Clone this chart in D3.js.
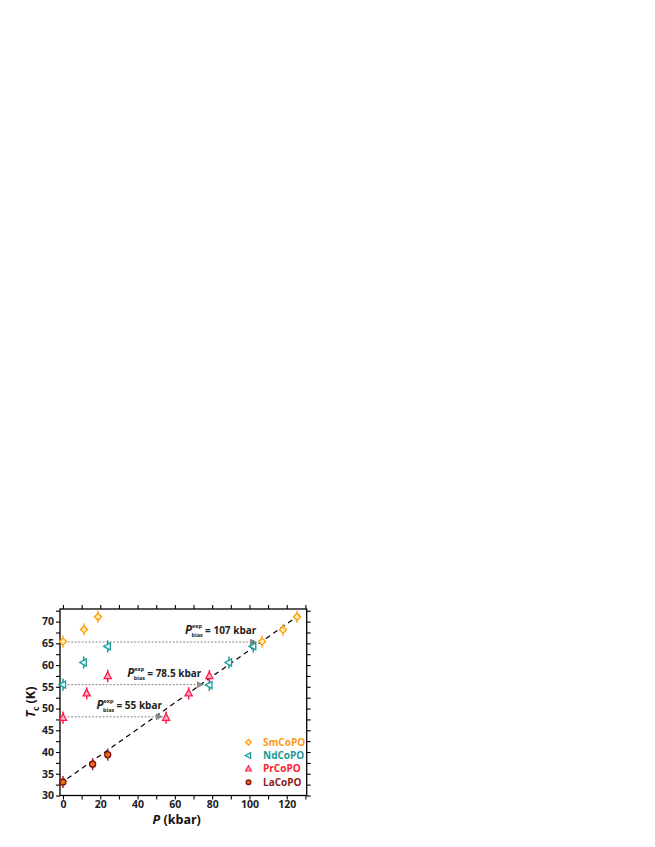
<!DOCTYPE html>
<html>
<head>
<meta charset="utf-8">
<script src="https://cdn.jsdelivr.net/npm/d3@7"></script>
<style>
  body { margin: 0; background: #fff; }
  svg text { font-family: "Open Sans", "DejaVu Sans", sans-serif; font-weight: bold; }
</style>
</head>
<body>
<svg id="canvas" width="655" height="847"></svg>
<script>
// data
let smP = [0, 11.3, 18.8, 106.8, 118, 125.5]
let smT = [65.4, 68.2, 71.1, 65.4, 68.1, 71.1]
let ndP = [0, 11.1, 24, 78.5, 89, 102]
let ndT = [55.5, 60.6, 64.3, 55.4, 60.6, 64.3]
let prP = [0, 12.7, 24, 55.3, 67.4, 78.5]
let prT = [47.9, 53.5, 57.5, 47.9, 53.5, 57.5]
let laP = [0, 15.9, 24]
let laT = [33.1, 37.2, 39.4]
let errT = 1.4

let fitP = [-1.6, 127]
let fitT = [32.7, 71.6]

let arrowT = [65.3, 55.5, 48.1]
let arrowEnd = [104, 75.6, 53.6]
let arrowLabel = ['= 107 kbar', '= 78.5 kbar', '= 55 kbar']
let labelP = [65.5, 34.5, 18]
let labelT = [67.2, 57.2, 49.8]

let xTicks = [0, 20, 40, 60, 80, 100, 120]
let yTicks = [30, 35, 40, 45, 50, 55, 60, 65, 70]

let seriesNames = ['SmCoPO', 'NdCoPO', 'PrCoPO', 'LaCoPO']
let seriesText = ['#ff9a1a', '#1a9a9a', '#ff1a2e', '#8b1a1a']

let canvas = d3.select('#canvas')

let x = d3.scaleLinear().domain([-1.6, 130.7]).range([60, 306.7])
let y = d3.scaleLinear().domain([30, 72.9]).range([795.5, 609])

// frame
canvas.append('rect')
    .attr('x', x.range()[0]).attr('y', y.range()[1])
    .attr('width', x.range()[1] - x.range()[0])
    .attr('height', y.range()[0] - y.range()[1])
    .attr('fill', 'none').attr('stroke', '#000').attr('stroke-width', 1.3)

let tickLen = 4
let axisStyle = (g) => {
    g.select('.domain').remove()
    g.selectAll('line').attr('stroke', '#000').attr('stroke-width', 1.1)
    g.selectAll('text').attr('font-size', 10.5).attr('fill', '#222')
}

// bottom axis
canvas.append('g')
    .attr('transform', `translate(0,${y.range()[0]})`)
    .call(d3.axisBottom(x).tickValues(d3.range(0, 131, 10)).tickSize(tickLen).tickPadding(1.5)
        .tickFormat(d => xTicks.includes(d) ? d : ''))
    .call(axisStyle)
// top axis
canvas.append('g')
    .attr('transform', `translate(0,${y.range()[1]})`)
    .call(d3.axisTop(x).tickValues(d3.range(0, 131, 10)).tickSize(tickLen).tickFormat(''))
    .call(axisStyle)
// left axis
canvas.append('g')
    .attr('transform', `translate(${x.range()[0]},0)`)
    .call(d3.axisLeft(y).tickValues(d3.range(30, 73, 2.5)).tickSize(tickLen).tickPadding(2)
        .tickFormat(d => yTicks.includes(d) ? d : ''))
    .call(axisStyle)
// right axis
canvas.append('g')
    .attr('transform', `translate(${x.range()[1]},0)`)
    .call(d3.axisRight(y).tickValues(d3.range(30, 73, 2.5)).tickSize(tickLen).tickFormat(''))
    .call(axisStyle)

// axis titles
let yTitle = canvas.append('text')
    .attr('transform', `translate(35,${y(51.5)}) rotate(-90)`)
    .attr('text-anchor', 'middle').attr('font-size', 12.5).attr('fill', '#111')
yTitle.append('tspan').attr('font-style', 'italic').text('T')
yTitle.append('tspan').attr('font-size', 8).attr('dy', 4).text('c')
yTitle.append('tspan').attr('dy', -4).text(' (K)')

let xTitle = canvas.append('text')
    .attr('x', x(61)).attr('y', 824)
    .attr('text-anchor', 'middle').attr('font-size', 12.5).attr('fill', '#111')
xTitle.append('tspan').attr('font-style', 'italic').text('P')
xTitle.append('tspan').text(' (kbar)')

// fit line
canvas.append('path')
    .datum(d3.zip(fitP, fitT))
    .attr('d', d3.line().x(d => x(d[0])).y(d => y(d[1])))
    .attr('stroke', '#000').attr('stroke-width', 1.2)
    .attr('stroke-dasharray', '5,4').attr('fill', 'none')

// arrows
canvas.append('defs').append('marker')
    .attr('id', 'head').attr('viewBox', '0 0 10 10')
    .attr('refX', 10).attr('refY', 5)
    .attr('markerWidth', 9).attr('markerHeight', 7)
    .attr('markerUnits', 'userSpaceOnUse')
    .attr('orient', 'auto')
    .append('path').attr('d', 'M0,0 L10,5 L0,10 Z').attr('fill', '#8a8a8a')

arrowT.forEach((t, i) => {
    canvas.append('line')
        .attr('x1', x(2.5)).attr('x2', x(arrowEnd[i]))
        .attr('y1', y(t)).attr('y2', y(t))
        .attr('stroke', '#888').attr('stroke-width', 1)
        .attr('stroke-dasharray', '2,1.5')
        .attr('marker-end', 'url(#head)')

    let lx = x(labelP[i])
    let ly = y(labelT[i])
    canvas.append('text').attr('x', lx).attr('y', ly)
        .attr('font-size', 11.5).attr('font-style', 'italic').attr('fill', '#222').text('P')
    canvas.append('text').attr('x', lx + 7).attr('y', ly - 6)
        .attr('font-size', 5.5).attr('fill', '#222').text('exp')
    canvas.append('text').attr('x', lx + 6.5).attr('y', ly + 3)
        .attr('font-size', 5.5).attr('fill', '#222').text('bias')
    canvas.append('text').attr('x', lx + 20).attr('y', ly)
        .attr('font-size', 10).attr('fill', '#222').text(arrowLabel[i])
})

// symbols (custom shapes so the diamond is square-ish)
let diamondPath = (r) => `M0,${-r}L${r},0L0,${r}L${-r},0Z`
let triPath = (r) => `M0,${-r}L${r * 0.9},${r * 0.65}L${-r * 0.9},${r * 0.65}Z`
let circPath = (r) => `M${r},0A${r},${r} 0 1,1 ${-r},0A${r},${r} 0 1,1 ${r},0Z`

let series = [
    { P: smP, T: smT, shape: diamondPath, r: 3.5, rot: 0, stroke: '#ff9a00', fill: '#fff2b0', err: '#ffb040' },
    { P: ndP, T: ndT, shape: triPath, r: 4, rot: -90, stroke: '#1a9a9a', fill: '#e8fbfb', err: '#1a9a9a' },
    { P: prP, T: prT, shape: triPath, r: 4, rot: 0, stroke: '#ff1a4a', fill: '#ffb0c0', err: '#ff1a4a' },
    { P: laP, T: laT, shape: circPath, r: 3, rot: 0, stroke: '#7a1010', fill: '#ee6a10', err: '#b0202a' }
]

series.forEach(s => {
    let pts = d3.zip(s.P, s.T)
    let g = canvas.append('g')
    g.selectAll('line').data(pts).enter().append('line')
        .attr('x1', d => x(d[0])).attr('x2', d => x(d[0]))
        .attr('y1', d => y(d[1] - errT)).attr('y2', d => y(d[1] + errT))
        .attr('stroke', s.err).attr('stroke-width', 1.5)
    g.selectAll('path').data(pts).enter().append('path')
        .attr('d', s.shape(s.r))
        .attr('transform', d => `translate(${x(d[0])},${y(d[1])}) rotate(${s.rot})`)
        .attr('fill', s.fill).attr('stroke', s.stroke).attr('stroke-width', 1.3)
})

// legend
let legY = [742.3, 755.6, 768.9, 782.2]
series.forEach((s, i) => {
    canvas.append('path')
        .attr('d', s.shape(s.r * 0.8))
        .attr('transform', `translate(248.5,${legY[i]}) rotate(${s.rot})`)
        .attr('fill', s.fill).attr('stroke', s.stroke).attr('stroke-width', 1.2)
    canvas.append('text')
        .attr('x', 263).attr('y', legY[i] + 3.5)
        .attr('font-size', 10).attr('fill', seriesText[i])
        .text(seriesNames[i])
})
</script>
</body>
</html>
